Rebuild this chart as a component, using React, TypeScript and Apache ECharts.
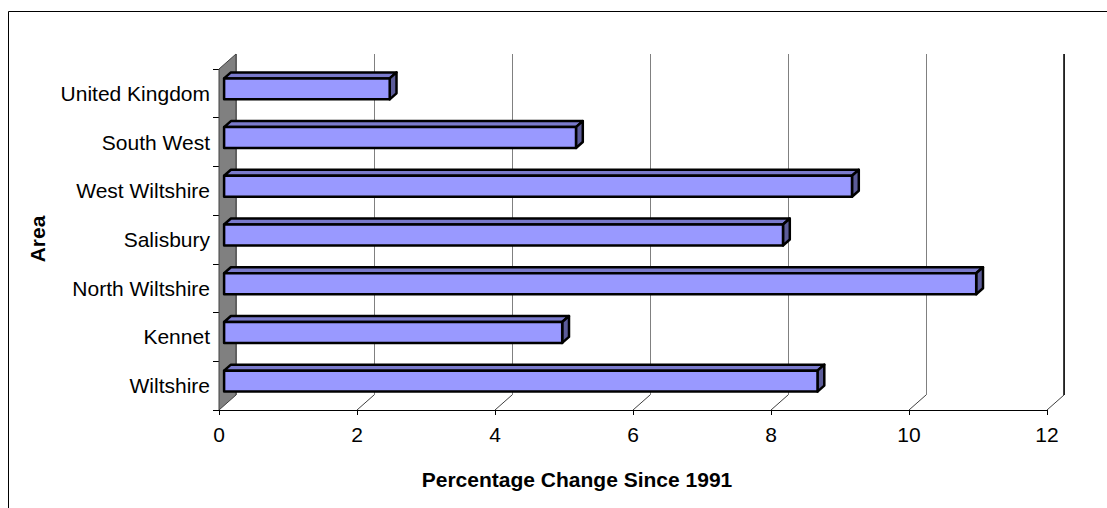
import { useEffect, useRef } from "react";
import * as echarts from "echarts";

// Areas listed bottom-to-top, as the category axis draws them
const areas = [
  "Wiltshire",
  "Kennet",
  "North Wiltshire",
  "Salisbury",
  "West Wiltshire",
  "South West",
  "United Kingdom",
];
const changeSince1991 = [8.6, 4.9, 10.9, 8.1, 9.1, 5.1, 2.4];
const valueTicks = [0, 2, 4, 6, 8, 10, 12];
const xTitle = "Percentage Change Since 1991";
const yTitle = "Area";

const FONT = "Arial, 'Liberation Sans', sans-serif";
const FONT_SIZE = 21;

// Depth of the pseudo-3D box (back plane offset from front plane)
const DX = 17;
const DY = -15;
const FRONT = { left: 219, top: 69, width: 828, height: 341 };

const BAR_FRONT = "#9999FF";
const BAR_TOP = "#7A7ACC";
const BAR_SIDE = "#5C5C99";

export default function App() {
  const ref = useRef<HTMLDivElement>(null);

  useEffect(() => {
    if (!ref.current) return;
    const chart = echarts.init(ref.current, undefined, { renderer: "svg" });

    const option: any = {
      animation: false,
      backgroundColor: "#ffffff",
      grid: [
        {
          left: FRONT.left + DX,
          top: FRONT.top + DY,
          width: FRONT.width,
          height: FRONT.height,
        },
        {
          left: FRONT.left,
          top: FRONT.top,
          width: FRONT.width,
          height: FRONT.height,
        },
      ],
      xAxis: [
        {
          gridIndex: 0,
          type: "value",
          min: 0,
          max: 12,
          interval: 2,
          axisLabel: { show: false },
          axisLine: { show: false },
          axisTick: { show: false },
          splitLine: { show: true, lineStyle: { color: "#808080", width: 1 } },
        },
        {
          gridIndex: 1,
          type: "value",
          min: 0,
          max: 12,
          interval: 2,
          axisLine: { show: true, onZero: false, lineStyle: { color: "#000", width: 1 } },
          axisTick: { show: true, length: 5, lineStyle: { color: "#000" } },
          axisLabel: {
            margin: 14,
            fontSize: FONT_SIZE,
            color: "#000",
            fontFamily: FONT,
          },
          splitLine: { show: false },
        },
      ],
      yAxis: [
        { gridIndex: 0, type: "category", data: areas, show: false },
        {
          gridIndex: 1,
          type: "category",
          data: areas,
          axisLine: { show: false },
          axisTick: { show: true, length: 6, lineStyle: { color: "#000" } },
          axisLabel: {
            margin: 9,
            fontSize: FONT_SIZE,
            color: "#000",
            fontFamily: FONT,
          },
          splitLine: { show: false },
        },
      ],
      graphic: [
        {
          type: "rect",
          shape: { x: 8.5, y: 11.5, width: 1300, height: 700 },
          style: { fill: "none", stroke: "#000", lineWidth: 1 },
          silent: true,
        },
        {
          type: "text",
          x: 577,
          y: 479,
          style: {
            text: xTitle,
            fill: "#000",
            fontSize: FONT_SIZE,
            fontWeight: "bold",
            fontFamily: FONT,
            align: "center",
            verticalAlign: "middle",
          },
        },
        {
          type: "text",
          x: 37,
          y: 239,
          rotation: Math.PI / 2,
          style: {
            text: yTitle,
            fill: "#000",
            fontSize: FONT_SIZE,
            fontWeight: "bold",
            fontFamily: FONT,
            align: "center",
            verticalAlign: "middle",
          },
        },
      ],
      series: [
        {
          // side wall, floor edges and back-wall right edge
          type: "custom",
          xAxisIndex: 1,
          yAxisIndex: 1,
          z: 2,
          silent: true,
          data: valueTicks.map((v) => [v, areas[0]]),
          renderItem: (params: any, api: any) => {
            const cs = params.coordSys;
            const v = api.value(0);
            const x = api.coord([v, 0])[0];
            const top = cs.y;
            const bottom = cs.y + cs.height;
            const children: any[] = [];
            if (v === valueTicks[0]) {
              children.push({
                type: "polygon",
                shape: {
                  points: [
                    [x, top],
                    [x + DX, top + DY],
                    [x + DX, bottom + DY],
                    [x, bottom],
                  ],
                },
                style: { fill: "#808080", stroke: "#404040", lineWidth: 1 },
              });
            } else {
              children.push({
                type: "line",
                shape: { x1: x, y1: bottom, x2: x + DX, y2: bottom + DY },
                style: { stroke: "#404040", lineWidth: 1 },
              });
            }
            if (v === valueTicks[valueTicks.length - 1]) {
              children.push({
                type: "line",
                shape: { x1: x + DX, y1: bottom + DY, x2: x + DX, y2: top + DY },
                style: { stroke: "#000", lineWidth: 1.5 },
              });
            }
            return { type: "group", children };
          },
        },
        {
          // 3D bars: front face, top face and end face
          type: "custom",
          name: xTitle,
          xAxisIndex: 1,
          yAxisIndex: 1,
          z: 5,
          data: areas.map((a, i) => [changeSince1991[i], a]),
          renderItem: (params: any, api: any) => {
            const v = api.value(0);
            const cat = api.value(1);
            const p0 = api.coord([0, cat]);
            const p1 = api.coord([v, cat]);
            const band = api.size([0, 1])[1];
            const h = band * 0.43;
            const sx = DX * 0.3;
            const sy = DY * 0.3;
            const dx = DX * 0.4;
            const dy = DY * 0.4;
            const xl = p0[0] + sx;
            const xr = p1[0] + sx;
            const yt = p0[1] + sy - h / 2;
            const yb = yt + h;
            const edge = { stroke: "#000", lineWidth: 2.5, lineJoin: "round" };
            return {
              type: "group",
              children: [
                {
                  type: "polygon",
                  shape: {
                    points: [
                      [xl, yt],
                      [xl + dx, yt + dy],
                      [xr + dx, yt + dy],
                      [xr, yt],
                    ],
                  },
                  style: { fill: BAR_TOP, ...edge },
                },
                {
                  type: "polygon",
                  shape: {
                    points: [
                      [xr, yt],
                      [xr + dx, yt + dy],
                      [xr + dx, yb + dy],
                      [xr, yb],
                    ],
                  },
                  style: { fill: BAR_SIDE, ...edge },
                },
                {
                  type: "rect",
                  shape: { x: xl, y: yt, width: xr - xl, height: h },
                  style: { fill: BAR_FRONT, ...edge },
                },
              ],
            };
          },
        },
      ],
    };

    chart.setOption(option);
    return () => chart.dispose();
  }, []);

  return (
    <div
      ref={ref}
      style={{ position: "fixed", left: 0, top: 0, width: 1107, height: 508, background: "#fff" }}
    />
  );
}
